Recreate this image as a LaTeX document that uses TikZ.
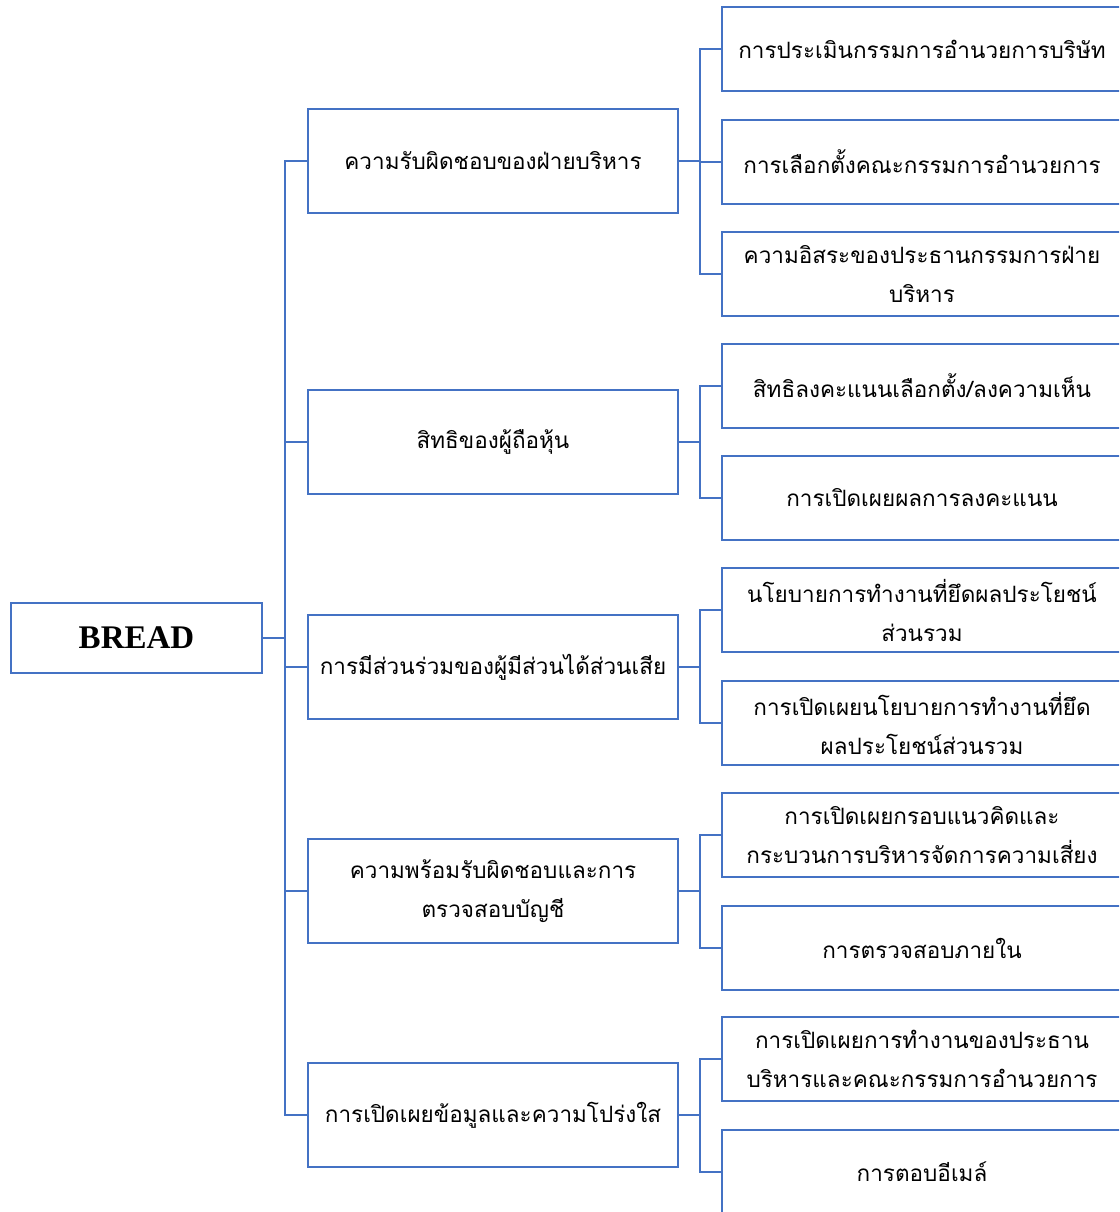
\documentclass[tikz,border=0pt]{standalone}
\usepackage{fontspec}
\newfontfamily\thai[Script=Thai]{Loma}
\setmainfont{Liberation Serif}
\definecolor{obl}{HTML}{4472C4}
\begin{document}
\begin{tikzpicture}[x=1pt,y=-1pt,
  box/.style={draw=obl,line width=2.6pt,inner sep=0pt,align=center,font=\thai\fontsize{22.5}{39}\selectfont},
  mid/.style={box,minimum width=370pt,minimum height=104pt},
  sub/.style={box,minimum width=400pt,minimum height=84pt},
  root/.style={draw=obl,line width=2.6pt,minimum width=251pt,minimum height=70pt,inner sep=0pt,font=\bfseries\fontsize{33}{36}\selectfont},
  conn/.style={draw=obl,line width=2.8pt,line join=miter}]
\useasboundingbox (0,0) rectangle (1119,1212);
\clip (0,0) rectangle (1119,1212);
\fill[white] (0,0) rectangle (1119,1212);
\coordinate (tx) at (285,0);
\coordinate (sx) at (700,0);
\node[root] (root) at (136.5,638) {BREAD};
\node[mid] (m1) at (493,161) {ความรับผิดชอบของฝ่ายบริหาร};
\node[mid] (m2) at (493,442) {สิทธิของผู้ถือหุ้น};
\node[mid] (m3) at (493,667) {การมีส่วนร่วมของผู้มีส่วนได้ส่วนเสีย};
\node[mid] (m4) at (493,891) {ความพร้อมรับผิดชอบและการ\\ตรวจสอบบัญชี};
\node[mid] (m5) at (493,1115) {การเปิดเผยข้อมูลและความโปร่งใส};
\node[sub] (r11) at (922,49) {การประเมินกรรมการอำนวยการบริษัท};
\node[sub] (r12) at (922,162) {การเลือกตั้งคณะกรรมการอำนวยการ};
\node[sub] (r13) at (922,274) {ความอิสระของประธานกรรมการฝ่าย\\บริหาร};
\node[sub] (r21) at (922,386) {สิทธิลงคะแนนเลือกตั้ง/ลงความเห็น};
\node[sub] (r22) at (922,498) {การเปิดเผยผลการลงคะแนน};
\node[sub] (r31) at (922,610) {นโยบายการทำงานที่ยึดผลประโยชน์\\ส่วนรวม};
\node[sub] (r32) at (922,723) {การเปิดเผยนโยบายการทำงานที่ยึด\\ผลประโยชน์ส่วนรวม};
\node[sub] (r41) at (922,835) {การเปิดเผยกรอบแนวคิดและ\\กระบวนการบริหารจัดการความเสี่ยง};
\node[sub] (r42) at (922,948) {การตรวจสอบภายใน};
\node[sub] (r51) at (922,1059) {การเปิดเผยการทำงานของประธาน\\บริหารและคณะกรรมการอำนวยการ};
\node[sub] (r52) at (922,1172) {การตอบอีเมล์};
% trunk
\draw[conn] (m1.west) -- (m1.west -| tx) -- (m5.west -| tx) -- (m5.west);
\draw[conn] (root.east) -- (root.east -| tx);
\foreach \m in {m2,m3,m4} \draw[conn] (\m.west) -- (\m.west -| tx);
% group 1
\draw[conn] (r11.west) -- (r11.west -| sx) -- (r13.west -| sx) -- (r13.west);
\draw[conn] (r12.west) -- (r12.west -| sx);
\draw[conn] (m1.east) -- (m1.east -| sx);
% groups 2-5
\foreach \g in {2,3,4,5} {
  \draw[conn] (r\g1.west) -- (r\g1.west -| sx) -- (r\g2.west -| sx) -- (r\g2.west);
  \draw[conn] (m\g.east) -- (m\g.east -| sx);
}
\end{tikzpicture}
\end{document}
